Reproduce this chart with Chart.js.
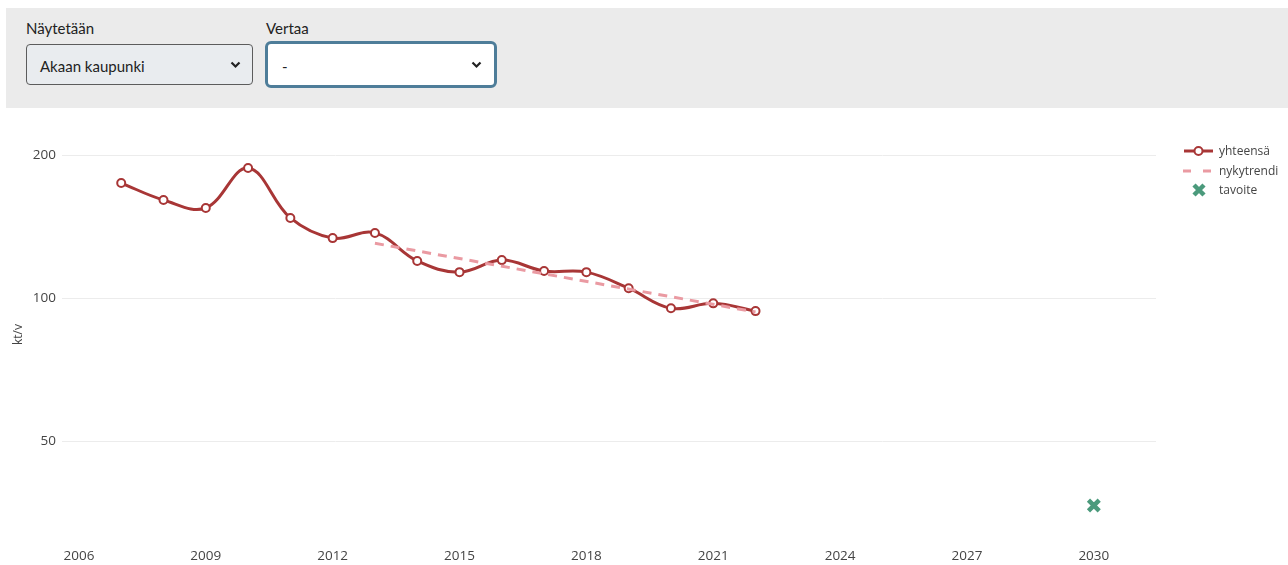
<!DOCTYPE html>
<html lang="fi">
<head>
<meta charset="utf-8">
<title>Päästöt</title>
<script src="https://cdn.jsdelivr.net/npm/chart.js@4/dist/chart.umd.min.js"></script>
<style>
  html, body { margin: 0; padding: 0; background: #fff; }
  body { width: 1288px; height: 565px; position: relative; overflow: hidden; font-family: Lato, "Open Sans", sans-serif; }
  .panel { position: absolute; left: 6px; top: 8px; width: 1282px; height: 100px; background: #ebebeb; }
  .lbl { position: absolute; top: 10px; font-size: 15px; line-height: 20px; color: #222; }
  .sel { position: absolute; box-sizing: border-box; font-size: 15px; color: #222; display: flex; align-items: center; }
  .sel svg { position: absolute; top: 50%; margin-top: -4px; }
  .sel1 { left: 20px; top: 36px; width: 227px; height: 41px; border: 1px solid #5c5c5c; border-radius: 4px; background: #e9ecef; padding-left: 13px; padding-top: 3px; }
  .sel2 { left: 259px; top: 33px; width: 232px; height: 47px; border: 3.5px solid #4e7d99; border-radius: 6px; background: #fff; padding-left: 14px; padding-top: 3px; }
  #wrap { position: absolute; left: 0; top: 108px; width: 1288px; height: 457px; }
</style>
</head>
<body>
<div class="panel">
  <div class="lbl" style="left:20px">Näytetään</div>
  <div class="sel sel1">Akaan kaupunki
    <svg style="right:11px" width="11" height="8" viewBox="0 0 11 8"><path d="M1.5 1.5 L5.5 5.5 L9.5 1.5" fill="none" stroke="#222" stroke-width="2.2"/></svg>
  </div>
  <div class="lbl" style="left:260px">Vertaa</div>
  <div class="sel sel2">-
    <svg style="right:12px" width="11" height="8" viewBox="0 0 11 8"><path d="M1.5 1.5 L5.5 5.5 L9.5 1.5" fill="none" stroke="#222" stroke-width="2.2"/></svg>
  </div>
</div>
<div id="wrap"><canvas id="emissionChart"></canvas></div>

<script>
// data (kt/v)
var years = [2007, 2008, 2009, 2010, 2011, 2012, 2013, 2014, 2015, 2016, 2017, 2018, 2019, 2020, 2021, 2022];
var totals = [174.6, 160.9, 154.8, 187.8, 147.5, 133.8, 137.2, 119.8, 113.5, 120.3, 114.1, 113.5, 105.0, 95.3, 97.6, 94.0];
var trendYears = [2013, 2022];
var trendValues = [130.5, 93.6];
var targetYears = [2030];
var targetValues = [36.7];
var xTicks = [2006, 2009, 2012, 2015, 2018, 2021, 2024, 2027, 2030];
var yTicks = [50, 100, 200];

var red = '#a83636';
var pink = '#ea9aa2';
var green = '#4b9a7c';
var textColor = '#444';

function pairs(xs, ys) {
    return xs.map(function (x, i) { return { x: x, y: ys[i] }; });
}

// legend drawn at the right like the original
var sideLegend = {
    id: 'sideLegend',
    afterDraw: function (chart) {
        var ctx = chart.ctx;
        ctx.save();
        ctx.font = '12px "Open Sans", sans-serif';
        ctx.fillStyle = textColor;
        ctx.textBaseline = 'middle';

        // yhteensä
        ctx.strokeStyle = red;
        ctx.lineWidth = 3;
        ctx.beginPath(); ctx.moveTo(1184, 43); ctx.lineTo(1213, 43); ctx.stroke();
        ctx.beginPath(); ctx.arc(1198.5, 43, 4, 0, Math.PI * 2);
        ctx.fillStyle = '#fff'; ctx.fill();
        ctx.lineWidth = 2; ctx.stroke();
        ctx.fillStyle = textColor;
        ctx.fillText('yhteensä', 1219, 43.5);

        // nykytrendi
        ctx.strokeStyle = pink;
        ctx.lineWidth = 3;
        ctx.setLineDash([8, 12]);
        ctx.beginPath(); ctx.moveTo(1183, 63); ctx.lineTo(1213, 63); ctx.stroke();
        ctx.setLineDash([]);
        ctx.fillText('nykytrendi', 1219, 63.5);

        // tavoite
        ctx.strokeStyle = green;
        ctx.lineWidth = 4.5;
        ctx.beginPath();
        ctx.moveTo(1194, 77); ctx.lineTo(1204, 87);
        ctx.moveTo(1204, 77); ctx.lineTo(1194, 87);
        ctx.stroke();
        ctx.fillText('tavoite', 1219, 82.5);
        ctx.restore();
    }
};

document.addEventListener('DOMContentLoaded', function () {
    var ctx = document.getElementById('emissionChart').getContext('2d');
    var emissionChart = new Chart(ctx, {
        type: 'line',
        data: {
            datasets: [{
                label: 'yhteensä',
                data: pairs(years, totals),
                borderColor: red,
                borderWidth: 3,
                tension: 0.38,
                pointRadius: 4,
                pointBorderWidth: 2,
                pointBackgroundColor: '#fff',
                pointBorderColor: red,
                order: 2
            }, {
                label: 'nykytrendi',
                data: pairs(trendYears, trendValues),
                borderColor: pink,
                borderWidth: 3,
                borderDash: [9, 7],
                pointRadius: 0,
                order: 1
            }, {
                label: 'tavoite',
                data: pairs(targetYears, targetValues),
                showLine: false,
                pointStyle: 'crossRot',
                pointRadius: 7.6,
                pointBorderWidth: 4.5,
                pointBorderColor: green,
                borderColor: green,
                order: 0
            }]
        },
        options: {
            responsive: true,
            maintainAspectRatio: false,
            animation: false,
            layout: { padding: { top: 27.3, right: 132, left: 0, bottom: 0 } },
            plugins: {
                legend: { display: false },
                tooltip: { enabled: false }
            },
            scales: {
                x: {
                    type: 'linear',
                    min: 2005.6,
                    max: 2031.47,
                    grid: { display: false },
                    border: { display: false },
                    afterBuildTicks: function (scale) {
                        scale.ticks = xTicks.map(function (v) { return { value: v }; });
                    },
                    afterFit: function (scale) { scale.height = 31.1; },
                    ticks: {
                        padding: 6,
                        color: textColor,
                        font: { family: '"Open Sans", sans-serif', size: 13.5 },
                        callback: function (v) { return String(v); }
                    }
                },
                y: {
                    type: 'logarithmic',
                    min: 32,
                    max: 220,
                    border: { display: false },
                    grid: { color: '#ececec', lineWidth: 1, drawTicks: false },
                    afterBuildTicks: function (scale) {
                        scale.ticks = yTicks.map(function (v) { return { value: v }; });
                    },
                    afterFit: function (scale) { scale.width = 62; },
                    ticks: {
                        padding: 6,
                        color: textColor,
                        font: { family: '"Open Sans", sans-serif', size: 13.5 },
                        callback: function (v) { return String(v); }
                    },
                    title: {
                        display: true,
                        text: 'kt/v',
                        color: textColor,
                        font: { family: '"Open Sans", sans-serif', size: 12 },
                        padding: { top: 11, bottom: 0 }
                    }
                }
            }
        },
        plugins: [sideLegend]
    });
});
</script>
</body>
</html>
